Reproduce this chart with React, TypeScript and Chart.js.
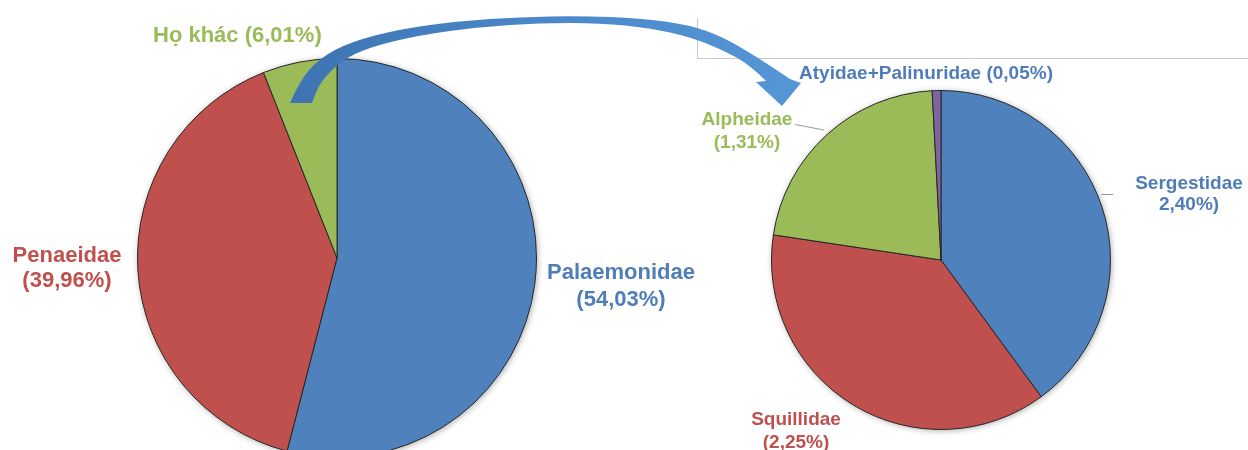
import React, { useEffect, useRef } from "react";
import { Chart, registerables } from "chart.js";
Chart.register(...registerables);

// ---- data ----
const mainCategories = ["Palaemonidae", "Penaeidae", "Họ khác"];
const mainValues = [54.03, 39.96, 6.01];
const mainColors = ["#4f81bd", "#c0504d", "#9bbb59"];
const mainLabelLines = [["Palaemonidae", "(54,03%)"], ["Penaeidae", "(39,96%)"], ["Họ khác (6,01%)"]];

const subCategories = ["Sergestidae", "Squillidae", "Alpheidae", "Atyidae+Palinuridae"];
const subValues = [2.40, 2.25, 1.31, 0.05];
const subColors = ["#4f81bd", "#c0504d", "#9bbb59", "#8064a2"];
const subLabelLines = [["Sergestidae", "2,40%)"], ["Squillidae", "(2,25%)"], ["Alpheidae", "(1,31%)"], ["Atyidae+Palinuridae (0,05%)"]];

// ---- layout (decoration only) ----
const W = 1248;
const H = 470;
const textColors = ["#4f7dba", "#c0504d", "#9bbb59"];
const mainLabelPos = [
  { x: 621, y: 273, size: 22, lh: 27, align: "center" },
  { x: 67, y: 256, size: 22, lh: 25, align: "center" },
  { x: 153, y: 36, size: 22, lh: 25, align: "left" },
];
const subLabelPos = [
  { x: 1189, y: 184, size: 19, lh: 21, align: "center" },
  { x: 796, y: 420, size: 19, lh: 23, align: "center" },
  { x: 747, y: 120, size: 19, lh: 23, align: "center" },
  { x: 926, y: 74, size: 19, lh: 22, align: "center" },
];
const arrowOuter = [
  [290, 103], [300, 80], [320, 58], [350, 42], [400, 29], [460, 21], [520, 17], [580, 16],
  [640, 18], [690, 25], [723, 37], [757, 57], [790, 79],
];
const arrowInner = [
  [312, 103], [320, 82], [342, 60], [370, 47], [420, 35], [480, 27], [540, 23], [600, 23],
  [650, 28], [690, 37], [723, 50], [750, 65], [766, 81],
];
const arrowHead = [[801, 83], [782, 106], [756, 82]];

function smooth(ctx: CanvasRenderingContext2D, pts: number[][], start: boolean) {
  if (start) ctx.moveTo(pts[0][0], pts[0][1]);
  else ctx.lineTo(pts[0][0], pts[0][1]);
  for (let i = 1; i < pts.length - 1; i++) {
    const mx = (pts[i][0] + pts[i + 1][0]) / 2;
    const my = (pts[i][1] + pts[i + 1][1]) / 2;
    ctx.quadraticCurveTo(pts[i][0], pts[i][1], mx, my);
  }
  const last = pts[pts.length - 1];
  ctx.lineTo(last[0], last[1]);
}

function drawLabels(ctx: CanvasRenderingContext2D, lines: string[][], pos: any[], colors: string[]) {
  lines.forEach((ls, i) => {
    const p = pos[i];
    ctx.font = `bold ${p.size}px "Liberation Sans", Arial, sans-serif`;
    ctx.fillStyle = colors[i % colors.length];
    ctx.textAlign = p.align;
    ctx.textBaseline = "middle";
    ls.forEach((t, j) => ctx.fillText(t, p.x, p.y + j * p.lh));
  });
}

const shadowPlugin = {
  id: "pieShadow",
  beforeDatasetsDraw(chart: any) {
    const arc = chart.getDatasetMeta(0).data[0];
    if (!arc) return;
    const ctx: CanvasRenderingContext2D = chart.ctx;
    ctx.save();
    ctx.shadowColor = "rgba(0,0,0,0.35)";
    ctx.shadowBlur = 6;
    ctx.shadowOffsetX = 1;
    ctx.shadowOffsetY = 1;
    ctx.fillStyle = "#ffffff";
    ctx.beginPath();
    ctx.arc(arc.x, arc.y, arc.outerRadius, 0, Math.PI * 2);
    ctx.fill();
    ctx.restore();
  },
};

const decorPlugin = {
  id: "decor",
  afterDraw(chart: any) {
    const ctx: CanvasRenderingContext2D = chart.ctx;
    ctx.save();
    // thin gray frame line
    ctx.strokeStyle = "#c9c9c9";
    ctx.lineWidth = 1;
    ctx.beginPath();
    ctx.moveTo(697.5, 18);
    ctx.lineTo(697.5, 58.5);
    ctx.lineTo(W, 58.5);
    ctx.stroke();

    // curved arrow
    const g = ctx.createLinearGradient(290, 0, 800, 0);
    g.addColorStop(0, "#3e73b2");
    g.addColorStop(0.5, "#4a88c9");
    g.addColorStop(1, "#5596d6");
    ctx.fillStyle = g;
    ctx.beginPath();
    smooth(ctx, arrowOuter, true);
    arrowHead.forEach((p) => ctx.lineTo(p[0], p[1]));
    smooth(ctx, [...arrowInner].reverse(), false);
    ctx.closePath();
    ctx.fill();

    // leader lines
    ctx.strokeStyle = "#9a9a9a";
    ctx.lineWidth = 1;
    ctx.beginPath();
    ctx.moveTo(795, 124.5);
    ctx.lineTo(824, 130);
    ctx.moveTo(1101, 194.5);
    ctx.lineTo(1113, 194.5);
    ctx.stroke();

    // labels
    drawLabels(ctx, mainLabelLines, mainLabelPos, textColors);
    drawLabels(ctx, subLabelLines, subLabelPos, ["#4f7dba", "#c0504d", "#9bbb59", "#4f7dba"]);
    ctx.restore();
  },
};

function makeConfig(labels: string[], values: number[], colors: string[], padding: any, plugins: any[]) {
  return {
    type: "pie" as const,
    data: {
      labels,
      datasets: [
        {
          data: values,
          backgroundColor: colors,
          borderColor: "#262626",
          borderWidth: 1,
        },
      ],
    },
    options: {
      responsive: false,
      animation: false as const,
      events: [],
      layout: { padding },
      plugins: { legend: { display: false }, tooltip: { enabled: false } },
    },
    plugins,
  };
}

export default function App() {
  const leftRef = useRef<HTMLCanvasElement>(null);
  const rightRef = useRef<HTMLCanvasElement>(null);

  useEffect(() => {
    const c1 = new Chart(
      leftRef.current!,
      makeConfig(mainCategories, mainValues, mainColors, { left: 137, right: W - 537, top: 58, bottom: H - 458 }, [shadowPlugin]) as any
    );
    const c2 = new Chart(
      rightRef.current!,
      makeConfig(subCategories, subValues, subColors, { left: 771, right: W - 1111, top: 90, bottom: H - 430 }, [shadowPlugin, decorPlugin]) as any
    );
    return () => {
      c1.destroy();
      c2.destroy();
    };
  }, []);

  const cs: React.CSSProperties = { position: "absolute", left: 0, top: 0, width: W, height: H };
  return (
    <div style={{ position: "fixed", left: 0, top: 0, width: W, height: 450, overflow: "hidden", background: "#fff" }}>
      <canvas ref={leftRef} width={W} height={H} style={cs} />
      <canvas ref={rightRef} width={W} height={H} style={cs} />
    </div>
  );
}
